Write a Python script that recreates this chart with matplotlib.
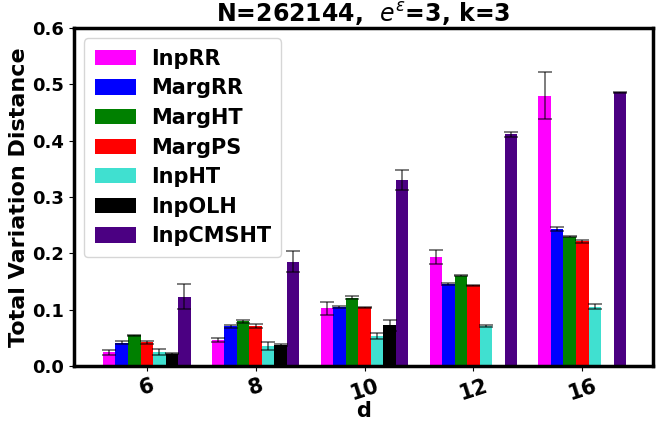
import numpy as np
import matplotlib
matplotlib.use('Agg')
import matplotlib.pyplot as plt

# x groups
d_labels = ['6', '8', '10', '12', '16']

methods = ['InpRR', 'MargRR', 'MargHT', 'MargPS', 'InpHT', 'InpOLH', 'InpCMSHT']
colors = ['magenta', 'blue', 'green', 'red', 'turquoise', 'black', 'indigo']

# mean TVD per method, nan = not shown
inp_rr = [0.024, 0.046, 0.102, 0.193, 0.480]
marg_rr = [0.041, 0.070, 0.105, 0.145, 0.243]
marg_ht = [0.054, 0.079, 0.121, 0.160, 0.229]
marg_ps = [0.042, 0.071, 0.104, 0.143, 0.221]
inp_ht = [0.025, 0.036, 0.053, 0.071, 0.105]
inp_olh = [0.022, 0.037, 0.072, np.nan, np.nan]
inp_cmsht = [0.123, 0.185, 0.330, 0.411, 0.486]

# error bar half-widths
inp_rr_err = [0.004, 0.004, 0.011, 0.012, 0.042]
marg_rr_err = [0.003, 0.002, 0.002, 0.002, 0.003]
marg_ht_err = [0.001, 0.002, 0.003, 0.001, 0.001]
marg_ps_err = [0.003, 0.004, 0.001, 0.001, 0.003]
inp_ht_err = [0.005, 0.007, 0.005, 0.002, 0.004]
inp_olh_err = [0.001, 0.001, 0.010, np.nan, np.nan]
inp_cmsht_err = [0.022, 0.019, 0.018, 0.005, 0.001]

values = [inp_rr, marg_rr, marg_ht, marg_ps, inp_ht, inp_olh, inp_cmsht]
errors = [inp_rr_err, marg_rr_err, marg_ht_err, marg_ps_err, inp_ht_err, inp_olh_err, inp_cmsht_err]

fig = plt.figure(figsize=(6.65, 4.23), dpi=100)
ax = fig.add_axes([0.111, 0.135, 0.871, 0.799])

x = np.arange(len(d_labels))
width = 0.115
for i, (name, col, vals, errs) in enumerate(zip(methods, colors, values, errors)):
    pos = x + (i - 3) * width
    ax.bar(pos, vals, width, yerr=errs, color=col, label=name, capsize=5,
           error_kw=dict(ecolor='black', elinewidth=1.2, capthick=1.2, alpha=0.6))

ax.set_xticks(x)
ax.set_xticklabels(d_labels, rotation=18, fontsize=15, fontweight='bold')
ax.set_xlim(-0.67, 4.65)
ax.set_ylim(0, 0.6)
ax.set_yticks([0.0, 0.1, 0.2, 0.3, 0.4, 0.5, 0.6])
ax.set_yticklabels(['0.0', '0.1', '0.2', '0.3', '0.4', '0.5', '0.6'], fontsize=13, fontweight='bold')
ax.set_xlabel('d', fontsize=15, fontweight='bold', labelpad=-2)
ax.set_ylabel('Total Variation Distance', fontsize=16, fontweight='bold', labelpad=2)
ax.set_title(r'N=262144,  $e^{\varepsilon}$=3, k=3', fontsize=17, fontweight='bold', pad=4)

for s in ax.spines.values():
    s.set_linewidth(2.5)

leg = ax.legend(loc='upper left', prop={'size': 15, 'weight': 'bold'},
                handlelength=2.0, handleheight=0.75, labelspacing=0.46, borderpad=0.5,
                handletextpad=0.7)

fig.savefig('out.png', dpi=100)
